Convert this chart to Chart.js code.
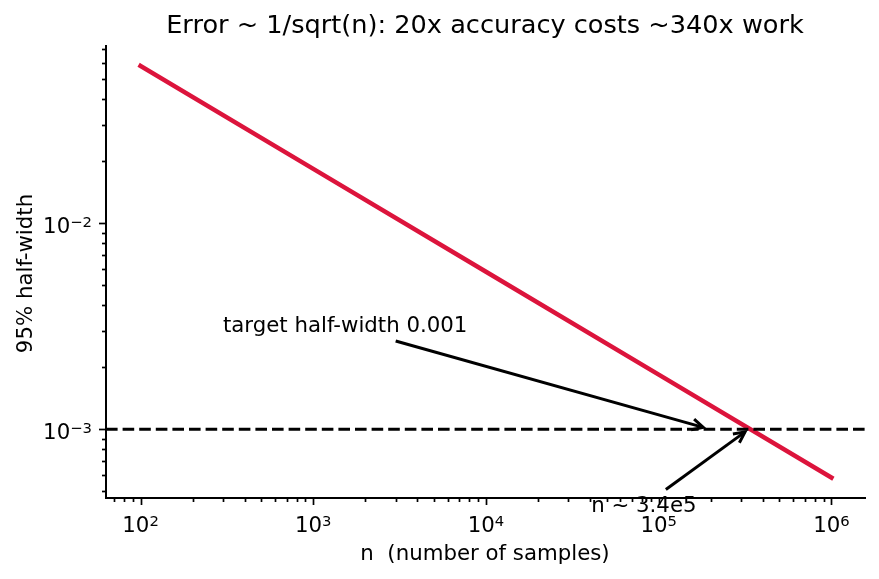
<!DOCTYPE html>
<html>
<head>
<meta charset="utf-8">
<script src="https://cdn.jsdelivr.net/npm/chart.js@4/dist/chart.umd.min.js"></script>
<style>
  html, body { margin: 0; padding: 0; background: #fff; }
  #wrap { width: 879px; height: 579px; }
</style>
</head>
<body>
<div id="wrap"><canvas id="c" width="879" height="579"></canvas></div>
<script>
// 数据
const sampleSizes = [1e2, 1e3, 1e4, 1e5, 1e6];
const halfWidths = [0.0582, 0.0184, 0.00582, 0.00184, 0.000582];
const targetHalfWidth = 0.001;

// 坐标轴范围和刻度
const xLimits = [63.1, 1.585e6];
const yLimits = [0.000463, 0.0735];
const xTickExponents = [2, 3, 4, 5, 6];
const yTickExponents = [-3, -2];

const titleText = 'Error ~ 1/sqrt(n): 20x accuracy costs ~340x work';
const xLabelText = 'n  (number of samples)';
const yLabelText = '95% half-width';

// 注释 (数据坐标)
const notes = [
  { text: 'target half-width 0.001', textAt: [3e2, 0.00296], align: 'left', from: [3e3, 0.00268], to: [1.81e5, 0.00102] },
  { text: 'n ~ 3.4e5', textAt: [8.2e4, 0.000398], align: 'center', from: [1.1e5, 0.000509], to: [3.16e5, 0.00097] },
];

const FONT = '"DejaVu Sans", sans-serif';
const LABEL_SIZE = 21.3;

// 10^k 形式的刻度标签
function drawPow(ctx, exp, x, y, align) {
  const base = '10';
  const sup = exp < 0 ? '\u2212' + Math.abs(exp) : String(exp);
  ctx.font = LABEL_SIZE + 'px ' + FONT;
  const wb = ctx.measureText(base).width;
  ctx.font = '14.8px ' + FONT;
  const ws = ctx.measureText(sup).width;
  const total = wb + ws;
  let x0 = align === 'right' ? x - total : x - total / 2;
  ctx.textAlign = 'left';
  ctx.textBaseline = 'alphabetic';
  ctx.font = LABEL_SIZE + 'px ' + FONT;
  ctx.fillText(base, x0, y);
  ctx.font = '14.8px ' + FONT;
  ctx.fillText(sup, x0 + wb, y - 6.5);
}

function drawArrow(ctx, x1, y1, x2, y2) {
  const ang = Math.atan2(y2 - y1, x2 - x1);
  const hl = 11, hw = 5.5;
  ctx.beginPath();
  ctx.moveTo(x1, y1);
  ctx.lineTo(x2, y2);
  ctx.stroke();
  ctx.beginPath();
  ctx.moveTo(x2 - hl * Math.cos(ang) + hw * Math.sin(ang), y2 - hl * Math.sin(ang) - hw * Math.cos(ang));
  ctx.lineTo(x2, y2);
  ctx.lineTo(x2 - hl * Math.cos(ang) - hw * Math.sin(ang), y2 - hl * Math.sin(ang) + hw * Math.cos(ang));
  ctx.stroke();
}

const axesPlugin = {
  id: 'axesPlugin',
  afterDraw(chart) {
    const ctx = chart.ctx;
    const area = chart.chartArea;
    const xs = chart.scales.x;
    const ys = chart.scales.y;
    ctx.save();
    ctx.fillStyle = '#000';
    ctx.strokeStyle = '#000';

    // 坐标轴线 (左、下)
    ctx.lineWidth = 2;
    ctx.lineJoin = 'miter';
    ctx.beginPath();
    ctx.moveTo(area.left, area.top);
    ctx.lineTo(area.left, area.bottom);
    ctx.lineTo(area.right, area.bottom);
    ctx.stroke();

    // 刻度线
    ctx.lineWidth = 1.7;
    for (let e = 1; e <= 6; e++) {
      for (let m = 1; m <= 9; m++) {
        const v = m * Math.pow(10, e);
        if (v < xLimits[0] || v > xLimits[1]) continue;
        const px = Math.round(xs.getPixelForValue(v)) + 0.5;
        const len = m === 1 ? 7 : 4;
        ctx.beginPath();
        ctx.moveTo(px, area.bottom);
        ctx.lineTo(px, area.bottom + len);
        ctx.stroke();
      }
    }
    for (let e = -4; e <= -2; e++) {
      for (let m = 1; m <= 9; m++) {
        const v = m * Math.pow(10, e);
        if (v < yLimits[0] || v > yLimits[1]) continue;
        const py = Math.round(ys.getPixelForValue(v)) + 0.5;
        const len = m === 1 ? 7 : 4;
        ctx.beginPath();
        ctx.moveTo(area.left, py);
        ctx.lineTo(area.left - len, py);
        ctx.stroke();
      }
    }

    // 刻度标签
    xTickExponents.forEach(e => {
      drawPow(ctx, e, xs.getPixelForValue(Math.pow(10, e)), area.bottom + 34, 'center');
    });
    yTickExponents.forEach(e => {
      drawPow(ctx, e, area.left - 14, ys.getPixelForValue(Math.pow(10, e)) + 10, 'right');
    });

    // 标题和轴标题
    ctx.textAlign = 'center';
    ctx.textBaseline = 'alphabetic';
    ctx.font = '25.6px ' + FONT;
    ctx.fillText(titleText, 485, 33);
    ctx.font = LABEL_SIZE + 'px ' + FONT;
    ctx.fillText(xLabelText, (area.left + area.right) / 2 - 1, 560);
    ctx.save();
    ctx.translate(32, (area.top + area.bottom) / 2 + 2);
    ctx.rotate(-Math.PI / 2);
    ctx.fillText(yLabelText, 0, 0);
    ctx.restore();

    // 注释
    ctx.lineWidth = 3;
    ctx.lineCap = 'butt';
    notes.forEach(n => {
      drawArrow(ctx,
        xs.getPixelForValue(n.from[0]), ys.getPixelForValue(n.from[1]),
        xs.getPixelForValue(n.to[0]), ys.getPixelForValue(n.to[1]));
      ctx.textAlign = n.align;
      ctx.font = LABEL_SIZE + 'px ' + FONT;
      ctx.fillText(n.text, xs.getPixelForValue(n.textAt[0]), ys.getPixelForValue(n.textAt[1]));
    });
    ctx.restore();
  }
};

const ctx = document.getElementById('c').getContext('2d');
new Chart(ctx, {
  type: 'line',
  data: {
    datasets: [
      {
        data: [{ x: xLimits[0], y: targetHalfWidth }, { x: xLimits[1], y: targetHalfWidth }],
        borderColor: '#000',
        borderWidth: 3,
        borderDash: [11.6, 5],
        pointRadius: 0,
        order: 1,
      },
      {
        data: sampleSizes.map((n, i) => ({ x: n, y: halfWidths[i] })),
        borderColor: '#DC143C',
        borderWidth: 4.5,
        borderCapStyle: 'square',
        pointRadius: 0,
        tension: 0,
        order: 2,
      },
    ],
  },
  options: {
    responsive: false,
    animation: false,
    devicePixelRatio: 1,
    layout: { padding: { left: 106, right: 13, top: 45, bottom: 81 } },
    plugins: {
      legend: { display: false },
      tooltip: { enabled: false },
      title: { display: false },
    },
    scales: {
      x: { type: 'logarithmic', min: xLimits[0], max: xLimits[1], display: false },
      y: { type: 'logarithmic', min: yLimits[0], max: yLimits[1], display: false },
    },
  },
  plugins: [axesPlugin],
});
</script>
</body>
</html>
